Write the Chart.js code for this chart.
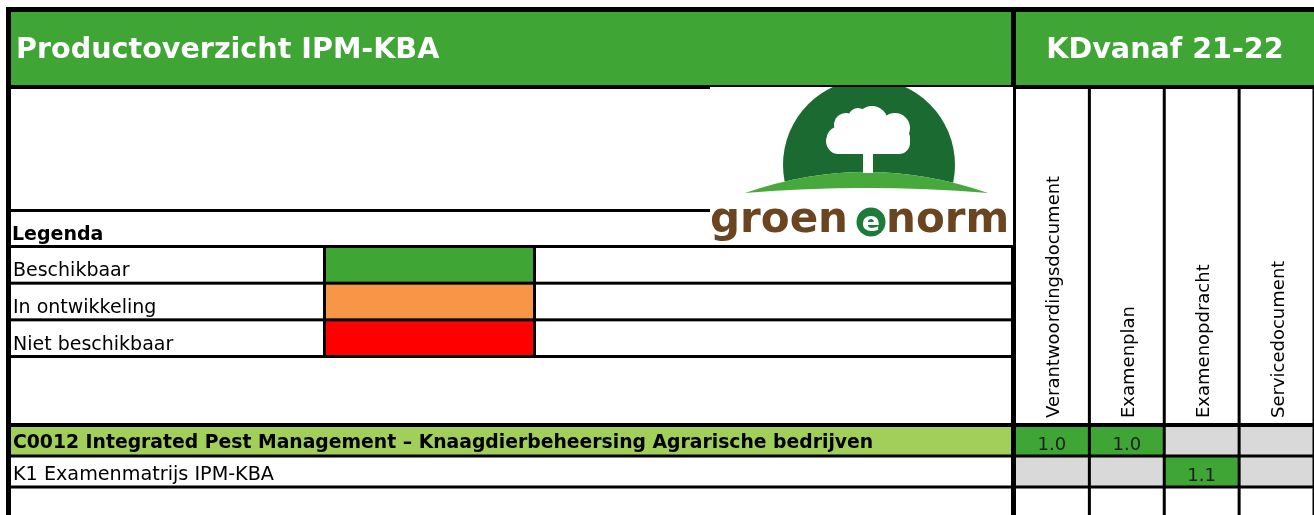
<!DOCTYPE html>
<html>
<head>
<meta charset="utf-8">
<script src="https://cdn.jsdelivr.net/npm/chart.js@4.4.1/dist/chart.umd.min.js"></script>
<style>
    html, body { margin: 0; padding: 0; overflow: hidden; background: #fff; }
    canvas { display: block; }
</style>
</head>
<body>
<canvas id="overzicht" width="1314" height="520"></canvas>
<script>
// content of the overview
const title = "Productoverzicht IPM-KBA";
const subtitle = "KDvanaf 21-22";
const legendTitle = "Legenda";
const legendLabels = ["Beschikbaar", "In ontwikkeling", "Niet beschikbaar"];
const legendColors = ["#3fa535", "#f79646", "#ff0000"];

const documents = ["Verantwoordingsdocument", "Examenplan", "Examenopdracht", "Servicedocument"];
const products = [
    "C0012 Integrated Pest Management \u2013 Knaagdierbeheersing Agrarische bedrijven",
    "K1 Examenmatrijs IPM-KBA",
    ""
];
const headingRow = [true, false, false];

// version per product, one list per document column (null = no document)
const verantwoording = ["1.0", null, null];
const examenplan = ["1.0", null, null];
const examenopdracht = [null, "1.1", null];
const servicedocument = [null, null, null];
// every cell takes one column slot
const cellUnits = [1, 1, 1];

const versionSeries = [verantwoording, examenplan, examenopdracht, servicedocument];

const GREEN = "#3fa535";
const LIGHT_GREEN = "#a2cf5a";
const GREY = "#d9d9d9";
const FONT = "Verdana, 'DejaVu Sans', sans-serif";

function cellColor(version, product) {
    if (version) return GREEN;
    return product ? GREY : "#ffffff";
}

function hline(ctx, x0, x1, y, w) {
    ctx.fillRect(x0, y - w / 2, x1 - x0, w);
}
function vline(ctx, x, y0, y1, w) {
    ctx.fillRect(x - w / 2, y0, w, y1 - y0);
}

function roundRect(ctx, x, y, w, h, r) {
    ctx.beginPath();
    ctx.moveTo(x + r, y);
    ctx.arcTo(x + w, y, x + w, y + h, r);
    ctx.arcTo(x + w, y + h, x, y + h, r);
    ctx.arcTo(x, y + h, x, y, r);
    ctx.arcTo(x, y, x + w, y, r);
    ctx.closePath();
    ctx.fill();
}

function drawLogo(ctx) {
    ctx.save();
    ctx.fillStyle = "#fff";
    ctx.fillRect(710, 87, 303, 158);

    // dark dome, cut off by the hill
    ctx.save();
    ctx.beginPath();
    ctx.moveTo(710, 87);
    ctx.lineTo(1010, 87);
    ctx.lineTo(1010, 193);
    ctx.lineTo(988, 193);
    ctx.quadraticCurveTo(866, 151, 745, 193);
    ctx.lineTo(710, 193);
    ctx.closePath();
    ctx.clip();
    ctx.fillStyle = "#1a6a31";
    ctx.beginPath();
    ctx.arc(869, 165, 86, 0, Math.PI * 2);
    ctx.fill();
    ctx.restore();

    // hill
    ctx.fillStyle = "#47a83b";
    ctx.beginPath();
    ctx.moveTo(745, 193);
    ctx.quadraticCurveTo(866, 151, 988, 193);
    ctx.quadraticCurveTo(866, 183, 745, 193);
    ctx.fill();

    // tree
    ctx.fillStyle = "#fff";
    ctx.fillRect(863, 148, 10, 25);
    roundRect(ctx, 827, 127, 83, 27, 11);
    [[872, 122, 16], [846, 125, 12], [895, 128, 15], [838, 141, 12], [858, 118, 10]].forEach(c => {
        ctx.beginPath();
        ctx.arc(c[0], c[1], c[2], 0, Math.PI * 2);
        ctx.fill();
    });

    // word mark
    ctx.fillStyle = "#6b4520";
    ctx.font = "bold 42px 'DejaVu Sans', sans-serif";
    ctx.textBaseline = "alphabetic";
    ctx.textAlign = "left";
    ctx.fillText("groen", 710, 232);
    ctx.fillText("norm", 886, 232);
    ctx.fillStyle = "#1d7b3a";
    ctx.beginPath();
    ctx.arc(871, 222, 14.5, 0, Math.PI * 2);
    ctx.fill();
    ctx.fillStyle = "#fff";
    ctx.font = "bold 27px 'DejaVu Sans', sans-serif";
    ctx.textAlign = "center";
    ctx.fillText("e", 871, 231);
    ctx.restore();
}

const tablePlugin = {
    id: "tablePlugin",
    beforeDatasetsDraw(chart) {
        const ctx = chart.ctx;
        const meta = chart.getDatasetMeta(0);
        ctx.save();
        ctx.fillStyle = GREEN;
        ctx.fillRect(11, 12, 1303, 73);
        meta.data.forEach((bar, i) => {
            if (headingRow[i]) {
                ctx.fillStyle = LIGHT_GREEN;
                ctx.fillRect(11, bar.y - bar.height / 2, chart.chartArea.left - 11, bar.height);
            }
        });
        // legend swatches
        const legTop = 246.5, legRow = 36.67;
        legendColors.forEach((c, i) => {
            ctx.fillStyle = c;
            ctx.fillRect(325, legTop + i * legRow, 209, legRow);
        });
        ctx.restore();
    },
    afterDatasetsDraw(chart) {
        const ctx = chart.ctx;
        const xs = chart.scales.x;
        const meta = chart.getDatasetMeta(0);
        const W = chart.width, H = chart.height;
        ctx.save();
        ctx.fillStyle = "#000";

        // outer frame and header
        hline(ctx, 6, W, 9.5, 5);
        vline(ctx, 8.5, 7, H, 5);
        hline(ctx, 6, W, 87, 4);
        vline(ctx, 1013.5, 7, H, 5);

        // left block
        hline(ctx, 11, 710, 210.5, 3);
        const legTop = 246.5, legRow = 36.67;
        for (let i = 0; i <= legendLabels.length; i++) {
            hline(ctx, 11, 1013, legTop + i * legRow, 3);
        }
        vline(ctx, 324.5, legTop, legTop + legendLabels.length * legRow, 3);
        vline(ctx, 534.5, legTop, legTop + legendLabels.length * legRow, 3);

        // grid of the matrix
        for (let j = 0; j <= documents.length; j++) {
            vline(ctx, xs.getPixelForValue(j), 89, H, 3);
        }
        meta.data.forEach((bar, i) => {
            const top = bar.y - bar.height / 2;
            hline(ctx, 6, W, top, i === 0 ? 4 : 3);
        });

        drawLogo(ctx);

        // header texts
        ctx.fillStyle = "#fff";
        ctx.font = "bold 28.6px " + FONT;
        ctx.textBaseline = "alphabetic";
        ctx.textAlign = "left";
        ctx.fillText(title, 16, 57.5);
        ctx.textAlign = "center";
        ctx.fillText(subtitle, (1016 + W) / 2, 57.5);

        // legend texts
        ctx.fillStyle = "#000";
        ctx.textAlign = "left";
        ctx.font = "bold 19px " + FONT;
        ctx.fillText(legendTitle, 12, 240);
        ctx.font = "19px " + FONT;
        legendLabels.forEach((t, i) => {
            ctx.fillText(t, 13, legTop + (i + 1) * legRow - 7);
        });

        // product rows
        meta.data.forEach((bar, i) => {
            ctx.font = (headingRow[i] ? "bold 18.8px " : "19.2px ") + FONT;
            ctx.fillText(products[i], 13, bar.y + bar.height / 2 - (headingRow[i] ? 8 : 7));
        });

        // document column headers
        ctx.font = "18px " + FONT;
        documents.forEach((d, j) => {
            const cx = xs.getPixelForValue(j + 0.5);
            ctx.save();
            ctx.translate(cx + 7, 418);
            ctx.rotate(-Math.PI / 2);
            ctx.fillText(d, 0, 0);
            ctx.restore();
        });

        // versions
        ctx.fillStyle = "#1e1e1e";
        ctx.textAlign = "center";
        chart.data.datasets.forEach((ds, j) => {
            chart.getDatasetMeta(j).data.forEach((bar, i) => {
                const v = versionSeries[j][i];
                if (!v) return;
                ctx.fillText(v, (bar.x + bar.base) / 2, bar.y + bar.height / 2 - 6);
            });
        });
        ctx.restore();
    }
};

new Chart(document.getElementById("overzicht"), {
    type: "bar",
    data: {
        labels: products,
        datasets: documents.map((doc, j) => ({
            label: doc,
            data: cellUnits,
            backgroundColor: c => cellColor(versionSeries[j][c.dataIndex], products[c.dataIndex]),
            borderWidth: 0,
            barPercentage: 1,
            categoryPercentage: 1
        }))
    },
    options: {
        indexAxis: "y",
        responsive: false,
        animation: false,
        layout: { padding: { left: 1014.5, right: 0, top: 425, bottom: 2 } },
        plugins: { legend: { display: false }, tooltip: { enabled: false } },
        scales: {
            x: { type: "linear", min: 0, max: documents.length, stacked: true, display: false },
            y: { stacked: true, display: false }
        }
    },
    plugins: [tablePlugin]
});
</script>
</body>
</html>
